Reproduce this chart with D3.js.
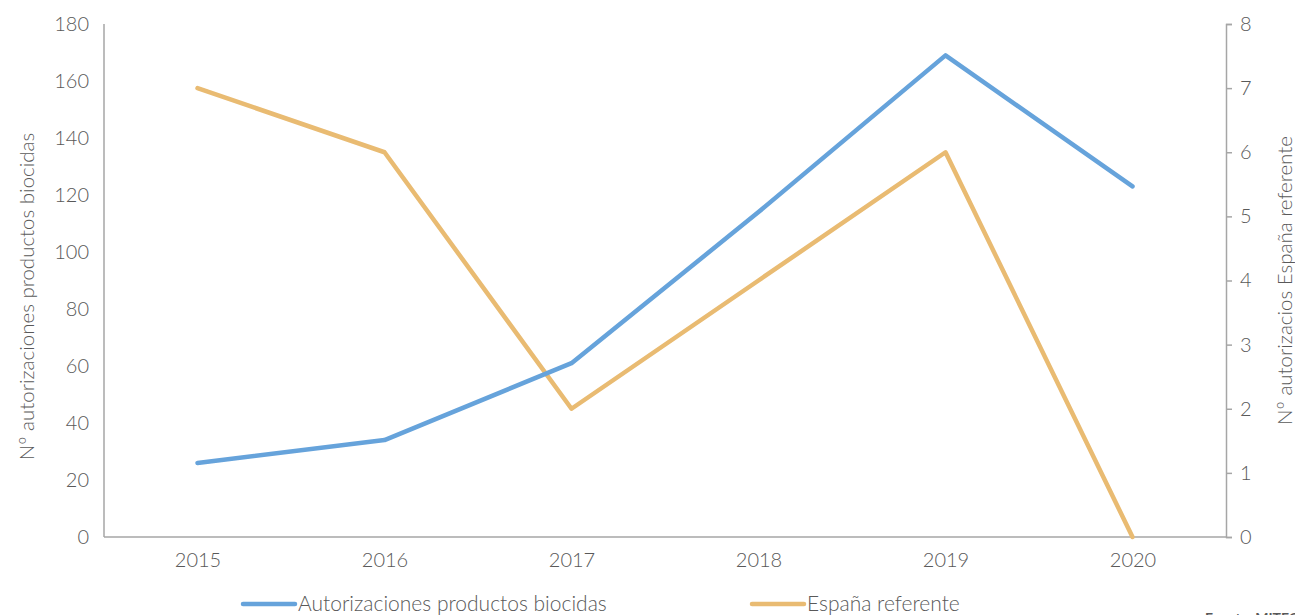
<!DOCTYPE html>
<html>
<head>
<meta charset="utf-8">
<script src="https://cdn.jsdelivr.net/npm/d3@7"></script>
<style>
  html, body { margin: 0; padding: 0; background: #fff; }
  svg { display: block; font-family: Lato, "Open Sans", sans-serif; font-weight: 300; }
</style>
</head>
<body>
<svg id="chart" width="1295" height="615"></svg>
<script>
// Years on the horizontal axis
const years = ["2015", "2016", "2017", "2018", "2019", "2020"];
// Number of biocidal product authorisations (left axis)
const autorizaciones = [26, 34, 61, 114, 169, 123];
// Authorisations with Spain as reference member state (right axis)
const espanaReferente = [7, 6, 2, 4, 6, 0];
// Axis ticks
const leftTicks = [0, 20, 40, 60, 80, 100, 120, 140, 160, 180];
const rightTicks = [0, 1, 2, 3, 4, 5, 6, 7, 8];

const svg = d3.select("#chart");
const margin = { left: 104, right: 69, top: 24, bottom: 78 };
const W = 1295, H = 615;
const x0 = margin.left, x1 = W - margin.right;
const y0 = H - margin.bottom, y1 = margin.top;

const textColor = "#595959";
const axisColor = "#a6a6a6";
const blue = "#66a3db";
const orange = "#e9bb72";

const x = d3.scalePoint().domain(years).range([x0, x1]).padding(0.5);
const yL = d3.scaleLinear().domain([0, 180]).range([y0, y1]);
const yR = d3.scaleLinear().domain([0, 8]).range([y0, y1]);

// Left axis: line and labels, no tick marks
const leftAxis = svg.append("g").attr("transform", `translate(${x0},0)`)
  .call(d3.axisLeft(yL).tickValues(leftTicks).tickSize(0).tickPadding(15));
// Right axis: short outward ticks
const rightAxis = svg.append("g").attr("transform", `translate(${x1},0)`)
  .call(d3.axisRight(yR).tickValues(rightTicks).tickSize(6).tickPadding(8));
// Bottom axis
const bottomAxis = svg.append("g").attr("transform", `translate(0,${y0})`)
  .call(d3.axisBottom(x).tickSize(0).tickPadding(16));

[leftAxis, rightAxis, bottomAxis].forEach(g => {
  g.select(".domain").attr("stroke", axisColor).attr("stroke-width", 1.5);
  g.selectAll(".tick line").attr("stroke", axisColor).attr("stroke-width", 1.5);
  g.selectAll(".tick text").attr("fill", textColor)
    .style("font-family", "Lato, sans-serif").style("font-weight", 300)
    .style("font-size", "20px");
});
// Left axis line runs from the bottom to the top of the plot only
leftAxis.select(".domain").attr("d", `M0,${y0}V${y1}`);
bottomAxis.select(".domain").attr("d", `M${x0},0H${x1}`);

// Axis titles
svg.append("text")
  .attr("transform", `translate(34,${(y0 + y1) / 2 + 16}) rotate(-90)`)
  .attr("text-anchor", "middle")
  .attr("fill", textColor).style("font-size", "20.5px")
  .text("Nº autorizaciones productos biocidas");
svg.append("text")
  .attr("transform", `translate(1292,${(y0 + y1) / 2}) rotate(-90)`)
  .attr("text-anchor", "middle")
  .attr("fill", textColor).style("font-size", "20.5px")
  .text("Nº autorizacios España referente");

// Series lines
const lineL = d3.line().x((d, i) => x(years[i])).y(d => yL(d));
const lineR = d3.line().x((d, i) => x(years[i])).y(d => yR(d));

svg.append("path").datum(espanaReferente)
  .attr("d", lineR).attr("fill", "none")
  .attr("stroke", orange).attr("stroke-width", 4.5)
  .attr("stroke-linecap", "round").attr("stroke-linejoin", "round");
svg.append("path").datum(autorizaciones)
  .attr("d", lineL).attr("fill", "none")
  .attr("stroke", blue).attr("stroke-width", 4.5)
  .attr("stroke-linecap", "round").attr("stroke-linejoin", "round");

// Legend
const legend = [
  { label: "Autorizaciones productos biocidas", color: blue, x: 243 },
  { label: "España referente", color: orange, x: 752 }
];
const lg = svg.append("g").attr("transform", "translate(0,604)");
legend.forEach(d => {
  lg.append("line").attr("x1", d.x).attr("x2", d.x + 52)
    .attr("y1", 0).attr("y2", 0)
    .attr("stroke", d.color).attr("stroke-width", 4.5).attr("stroke-linecap", "round");
  lg.append("text").attr("x", d.x + 55).attr("y", 6.5)
    .attr("fill", textColor).style("font-size", "21px").text(d.label);
});

// Source note
svg.append("text").attr("x", 1205).attr("y", 623)
  .attr("fill", textColor).style("font-size", "14px").style("font-weight", 700)
  .text("Fuente: MITECO");
</script>
</body>
</html>
